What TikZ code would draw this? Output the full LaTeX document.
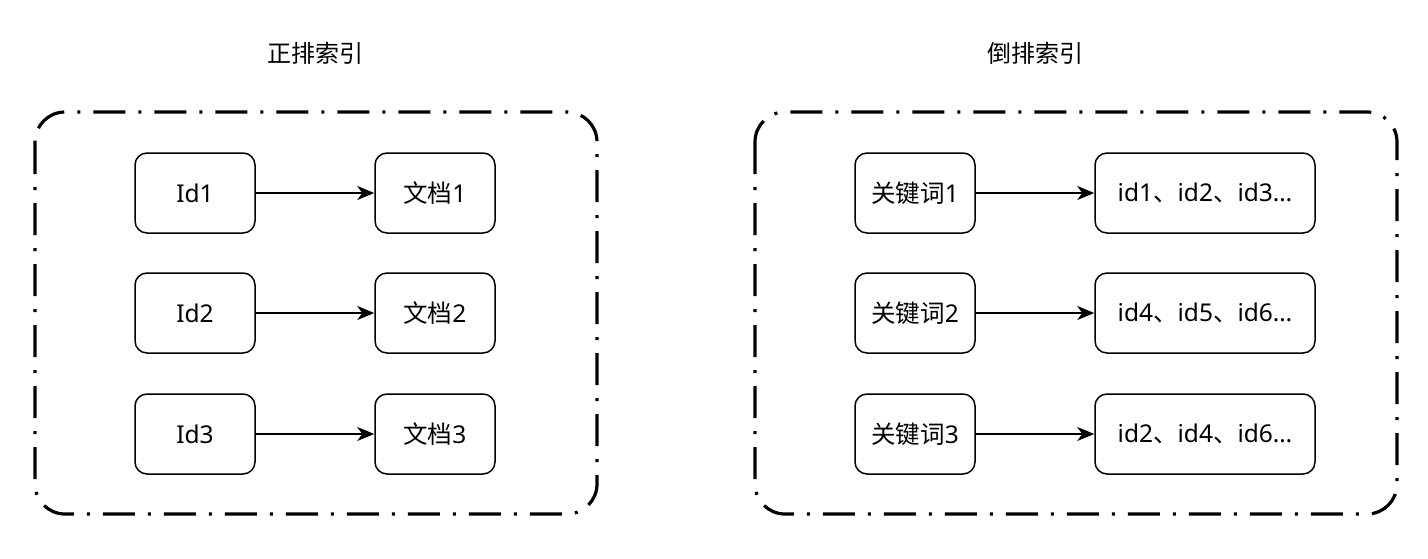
\documentclass[tikz,border=0pt]{standalone}
\usepackage{fontspec}
\setmainfont{Noto Sans}
\newfontfamily\cjk{Noto Sans CJK SC}
\usetikzlibrary{arrows.meta}

\tikzset{
  frame/.style={line width=3.2pt, dash pattern=on 32pt off 13pt on 3pt off 13pt, rounded corners=30pt},
  item/.style={draw, line width=1.5pt, rounded corners=12pt, minimum width=120pt, minimum height=80pt,
    inner sep=0pt, font=\fontsize{24.5}{29}\selectfont},
  wide/.style={item, minimum width=220pt},
  title/.style={font=\fontsize{24}{29}\selectfont},
}

\begin{document}
\begin{tikzpicture}[x=1pt, y=-1pt, >={Stealth[length=17pt, width=14pt, inset=5pt]}]
  \useasboundingbox (0,0) rectangle (1428,558);

  \node[title] (fwdtitle) at (315,53) {\cjk 正排索引};
  \node[title] (invtitle) at (1035,53) {\cjk 倒排索引};
  \draw[frame] (35,112) rectangle (597,514);
  \draw[frame] (755,112) rectangle (1397,514);

  % forward index
  \node[item] (id1) at (195,193) {Id1};
  \node[item] (id2) at (195,313) {Id2};
  \node[item] (id3) at (195,434) {Id3};
  \node[item] (doc1) at (435,193) {{\cjk 文档}1};
  \node[item] (doc2) at (435,313) {{\cjk 文档}2};
  \node[item] (doc3) at (435,434) {{\cjk 文档}3};
  \draw[->, line width=1.5pt] (id1) -- (doc1);
  \draw[->, line width=1.5pt] (id2) -- (doc2);
  \draw[->, line width=1.5pt] (id3) -- (doc3);

  % inverted index
  \node[item] (kw1) at (915,193) {{\cjk 关键词}1};
  \node[item] (kw2) at (915,313) {{\cjk 关键词}2};
  \node[item] (kw3) at (915,434) {{\cjk 关键词}3};
  \node[wide] (ids1) at (1205,193) {id1{\cjk 、}id2{\cjk 、}id3…};
  \node[wide] (ids2) at (1205,313) {id4{\cjk 、}id5{\cjk 、}id6…};
  \node[wide] (ids3) at (1205,434) {id2{\cjk 、}id4{\cjk 、}id6…};
  \draw[->, line width=1.5pt] (kw1) -- (ids1);
  \draw[->, line width=1.5pt] (kw2) -- (ids2);
  \draw[->, line width=1.5pt] (kw3) -- (ids3);
\end{tikzpicture}
\end{document}
